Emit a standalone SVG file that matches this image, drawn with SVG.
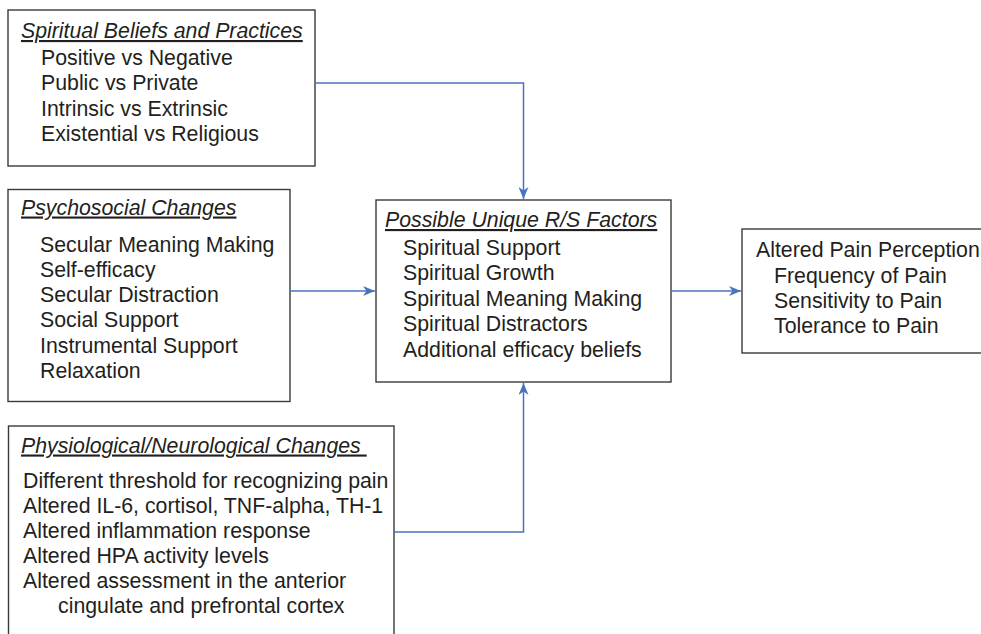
<svg xmlns="http://www.w3.org/2000/svg" width="981" height="634" viewBox="0 0 981 634">
<style>
  .box { fill: #ffffff; stroke: #3a3a3a; stroke-width: 1.4; }
  text { font-family: "Liberation Sans", Arial, sans-serif; font-size: 21.3px; fill: #231f20; }
  .title { font-style: italic; text-decoration: underline; }
  .conn { fill: none; stroke: #4a72c0; stroke-width: 1.5; }
</style>
<defs>
  <marker id="arrow" viewBox="0 0 12 10" refX="12" refY="5" markerWidth="12" markerHeight="10" markerUnits="userSpaceOnUse" orient="auto">
    <path d="M0,0 L12,5 L0,10 L3.5,5 z" fill="#4a72c0"/>
  </marker>
</defs>
<rect width="981" height="634" fill="#ffffff"/>

<g id="spiritual-beliefs">
  <rect class="box" x="8" y="10" width="307" height="156"/>
  <text class="title" x="21" y="38">Spiritual Beliefs and Practices</text>
  <text x="41" y="64.5">Positive vs Negative</text>
  <text x="41" y="90">Public vs Private</text>
  <text x="41" y="115.5">Intrinsic vs Extrinsic</text>
  <text x="41" y="141">Existential vs Religious</text>
</g>

<g id="psychosocial">
  <rect class="box" x="8" y="189.5" width="282" height="212"/>
  <text class="title" x="21" y="214.5">Psychosocial Changes</text>
  <text x="40" y="251.5">Secular Meaning Making</text>
  <text x="40" y="277">Self-efficacy</text>
  <text x="40" y="302">Secular Distraction</text>
  <text x="40" y="327">Social Support</text>
  <text x="40" y="352.5">Instrumental Support</text>
  <text x="40" y="378">Relaxation</text>
</g>

<g id="unique-rs-factors">
  <rect class="box" x="376" y="200" width="295" height="182"/>
  <text class="title" x="385" y="227">Possible Unique R/S Factors</text>
  <text x="403" y="254.5">Spiritual Support</text>
  <text x="403" y="280">Spiritual Growth</text>
  <text x="403" y="305.5">Spiritual Meaning Making</text>
  <text x="403" y="331">Spiritual Distractors</text>
  <text x="403" y="356.5">Additional efficacy beliefs</text>
</g>

<g id="pain-perception">
  <rect class="box" x="742" y="229" width="260" height="124"/>
  <text x="756" y="257">Altered Pain Perception</text>
  <text x="774" y="282.5">Frequency of Pain</text>
  <text x="774" y="308">Sensitivity to Pain</text>
  <text x="774" y="333">Tolerance to Pain</text>
</g>

<g id="physiological">
  <rect class="box" x="8.5" y="426" width="385.5" height="230"/>
  <text class="title" x="21" y="452.5">Physiological/Neurological Changes&#160;</text>
  <text x="23" y="487.5">Different threshold for recognizing pain</text>
  <text x="23" y="512.5">Altered IL-6, cortisol, TNF-alpha, TH-1</text>
  <text x="23" y="537.5">Altered inflammation response</text>
  <text x="23" y="563">Altered HPA activity levels</text>
  <text x="23" y="587.5">Altered assessment in the anterior</text>
  <text x="58" y="612.5">cingulate and prefrontal cortex</text>
</g>

<g id="connectors">
  <polyline class="conn" points="315,83 523.5,83 523.5,199" marker-end="url(#arrow)"/>
  <line class="conn" x1="290" y1="291" x2="375" y2="291" marker-end="url(#arrow)"/>
  <line class="conn" x1="671" y1="291" x2="741" y2="291" marker-end="url(#arrow)"/>
  <polyline class="conn" points="394,532 523.5,532 523.5,383" marker-end="url(#arrow)"/>
</g>
</svg>
